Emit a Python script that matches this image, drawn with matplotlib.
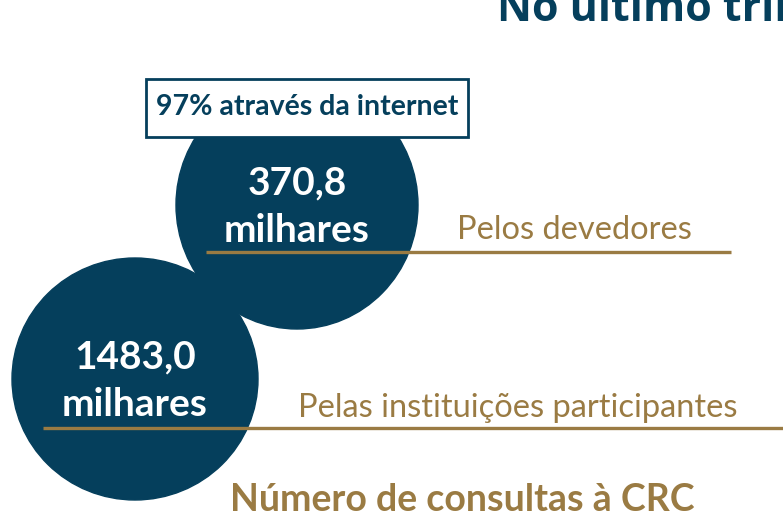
import matplotlib
matplotlib.use("Agg")
import matplotlib.pyplot as plt
from matplotlib.patches import Ellipse, Rectangle


# -----------------------------
# Data
# -----------------------------
values = [370.8, 1483.0]          # milhares de consultas
groups = ["Pelos devedores", "Pelas instituições participantes"]
unit = "milhares"
internet_note = "97% através da internet"
footer = "Número de consultas à CRC"
title = "No último trimestre"

teal = "#053F5C"
gold = "#9A7B43"

# layout in pixel coordinates (y downwards)
circle_xy = [(297, 205), (135, 379)]
circle_size = [(242, 248), (246, 242)]
line_span = [(206, 731, 252), (43, 790, 428)]
group_text_x = [457, 298]
group_text_y = [230, 408]


fig = plt.figure(figsize=(7.83, 5.21), dpi=100)
ax = fig.add_axes([0, 0, 1, 1])
ax.set_xlim(0, 783)
ax.set_ylim(521, 0)
ax.axis("off")

for i in range(len(values)):
    (cx, cy), (w, h) = circle_xy[i], circle_size[i]
    ax.add_patch(Ellipse((cx, cy), w, h, color=teal, zorder=1))

for i in range(len(values)):
    cx, cy = circle_xy[i]
    label = f"{values[i]:.1f}".replace(".", ",")
    ax.text(cx, cy - 22, label, color="white", fontsize=28, fontweight="bold",
            family="Lato", ha="center", va="center", zorder=3)
    ax.text(cx, cy + 26, unit, color="white", fontsize=28, fontweight="bold",
            family="Lato", ha="center", va="center", zorder=3)

    x0, x1, ly = line_span[i]
    ax.plot([x0, x1], [ly, ly], color=gold, lw=2.4, zorder=2,
            solid_capstyle="butt")
    ax.text(group_text_x[i], group_text_y[i], groups[i], color=gold,
            fontsize=23.5, family="Lato", ha="left", va="center", zorder=3)

# box with internet share
ax.add_patch(Rectangle((146, 79), 322, 58, facecolor="white", edgecolor=teal,
                       lw=2, zorder=4))
ax.text(307, 107, internet_note, color=teal, fontsize=20.5, fontweight="bold",
        family="Lato", ha="center", va="center", zorder=5)

ax.text(462, 500, footer, color=gold, fontsize=27, fontweight="bold",
        family="Lato", ha="center", va="center", zorder=3)

ax.text(497, 21, title, color=teal, fontsize=31, fontweight="bold",
        family="Open Sans", ha="left", va="baseline", zorder=3)

fig.savefig("out.png", dpi=100)
